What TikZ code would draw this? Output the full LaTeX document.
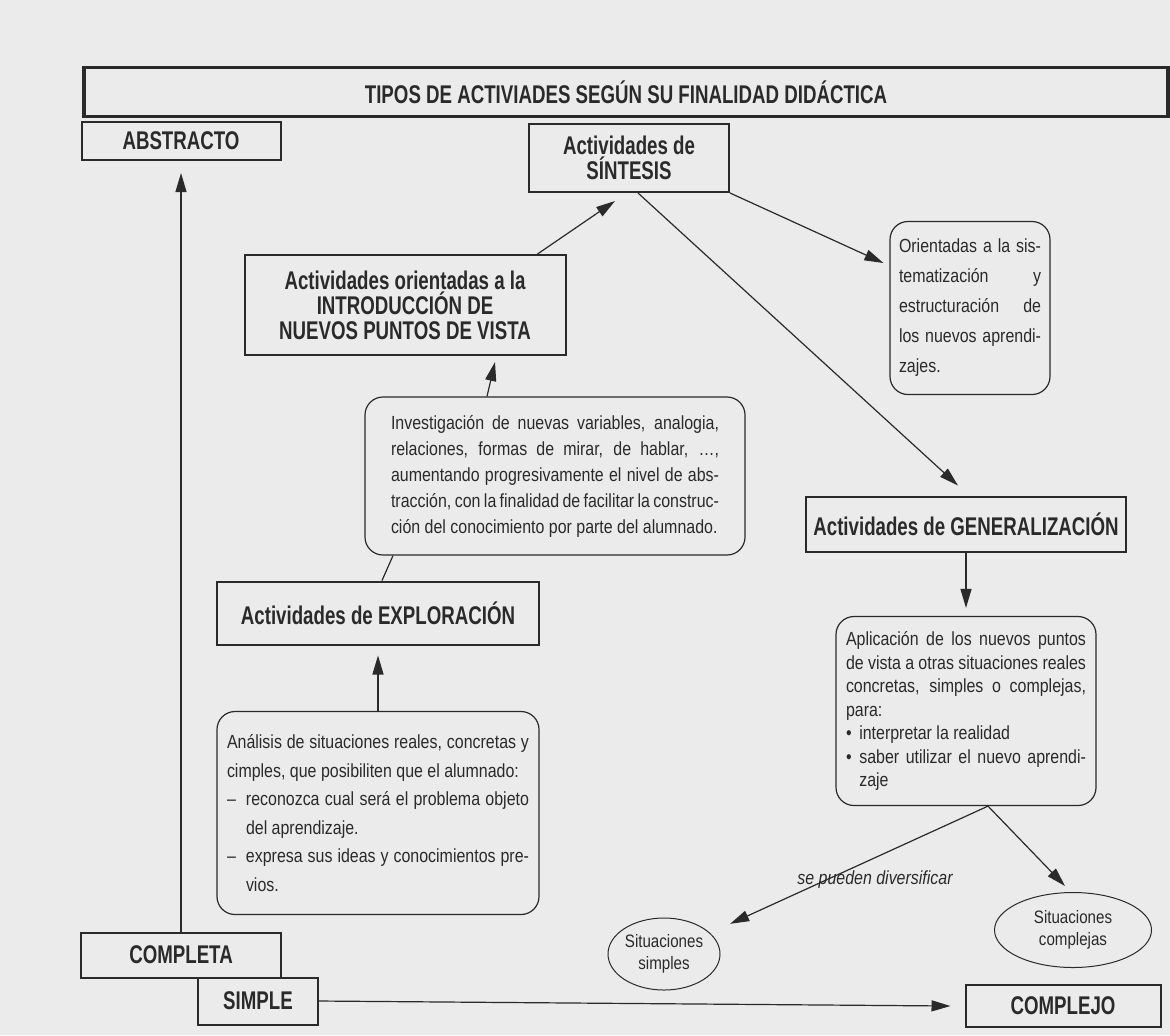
\documentclass[tikz,border=0pt]{standalone}
\usepackage{fontspec}
\setmainfont{Liberation Sans}[FakeStretch=0.84]
\newfontfamily\headfont{Liberation Sans}[FakeStretch=0.73]
\usetikzlibrary{arrows.meta,shapes.geometric,positioning}
\definecolor{paper}{HTML}{EBEBEB}
\definecolor{ink}{HTML}{2A2A2A}
\setlength{\parindent}{0pt}
\newcommand{\hangitem}[2][1em]{\par\hangindent=#1\hangafter=1\noindent\makebox[#1][l]{#2}}

\begin{document}
\begin{tikzpicture}[x = 0.5pt, y = -0.5pt, > = {Triangle[length = 9.5pt, width = 5.5pt]},
    box/.style = {draw = ink, line width = 1pt, text = ink, align = center, inner sep = 0pt,
                  font = \headfont\bfseries\fontsize{12.8}{12.5}\selectfont},
    note/.style = {draw = ink, line width = 0.6pt, rounded corners = 9pt, text = ink, align = justify,
                   inner ysep = 0pt},
    situ/.style = {draw = ink, ellipse, line width = 0.5pt, text = ink, align = center, inner sep = 0pt,
                   font = \fontsize{9}{11}\selectfont},
    link/.style = {->, draw = ink, line width = 0.6pt}]
    \fill[paper] (0,0) rectangle (1170,1035);
    \useasboundingbox (0,0) rectangle (1170,1035);

    % cajas
    \node at (626,92) [box, line width = 1.6pt, minimum width = 542pt, minimum height = 24.5pt] (title) {TIPOS DE ACTIVIADES SEGÚN SU FINALIDAD DIDÁCTICA};
    \node at (181,141) [box, minimum width = 99.5pt, minimum height = 19pt] (abs) {ABSTRACTO};
    \node at (629,158) [box, minimum width = 100pt, minimum height = 34pt] (sint) {Actividades de\\SÍNTESIS};
    \node at (405,305) [box, minimum width = 160.5pt, minimum height = 50pt] (intro) {Actividades orientadas a la\\INTRODUCCIÓN DE\\NUEVOS PUNTOS DE VISTA};
    \node at (970,308) [note, text width = 71pt, inner xsep = 4.5pt, minimum height = 86.5pt, font = \fontsize{9.5}{15}\selectfont] (orient) {Orientadas a la sis-\linebreak tematización y\linebreak estructuración de\linebreak los nuevos aprendi-\linebreak zajes.};
    \node at (555,476) [note, text width = 164pt, inner xsep = 13pt, minimum height = 79pt, font = \fontsize{9.5}{13}\selectfont] (invest) {Investigación de nuevas variables, analogia,\linebreak relaciones, formas de mirar, de hablar, …,\linebreak aumentando progresivamente el nivel de abs-\linebreak tracción, con la finalidad de facilitar la construc-\linebreak ción del conocimiento por parte del alumnado.};
    \node at (966,524) [box, minimum width = 160pt, minimum height = 27.5pt] (gen) {Actividades de GENERALIZACIÓN};
    \node at (378,613) [box, minimum width = 161pt, minimum height = 31.5pt] (explo) {Actividades de EXPLORACIÓN};
    \node at (966,711) [note, text width = 120pt, inner xsep = 5pt, minimum height = 94.5pt, font = \fontsize{9.5}{11.75}\selectfont] (aplic) {Aplicación de los nuevos puntos\linebreak de vista a otras situaciones reales\linebreak concretas, simples o complejas,\linebreak para:\hangitem[0.7em]{•}interpretar la realidad\hangitem[0.7em]{•}saber utilizar el nuevo aprendi-\linebreak zaje\par};
    \node at (378,813) [note, text width = 151pt, inner xsep = 5pt, minimum height = 101.5pt, font = \fontsize{9.5}{14.3}\selectfont] (analisis) {Análisis de situaciones reales, concretas y\linebreak cimples, que posibiliten que el alumnado:\hangitem{–}reconozca cual será el problema objeto\linebreak del aprendizaje.\hangitem{–}expresa sus ideas y conocimientos pre-\linebreak vios.\par};
    \node at (181,955) [box, minimum width = 100pt, minimum height = 22.5pt] (completa) {COMPLETA};
    \node at (258,1001) [box, minimum width = 60pt, minimum height = 23.5pt] (simple) {SIMPLE};
    \node at (1063,1006) [box, minimum width = 97.5pt, minimum height = 21pt] (complejo) {COMPLEJO};
    \node at (664,954) [situ, minimum width = 56pt, minimum height = 36pt] (simples) {Situaciones\\simples};
    \node at (1073,930) [situ, minimum width = 78.5pt, minimum height = 37.5pt] (complejas) {Situaciones\\complejas};
    \node at (875,880) [text = ink, font = \itshape\fontsize{9.5}{11}\selectfont] (lbl) {se pueden diversificar};

    % flechas
    \draw[link] (completa.north) -- ([yshift=-6pt]abs.south);
    \draw[link] ([xshift=-14.5pt]intro.north east) -- ([xshift=-7pt,yshift=-4pt]sint.south);
    \draw[link] (sint.south east) -- ([shift={(-3pt,22.5pt)}]orient.west);
    \draw[link] ([xshift=4.5pt]sint.south) -- ([shift={(-4pt,5pt)}]gen.north);
    \draw[link] ([xshift=-34pt]invest.north) -- ([shift={(45pt,-3pt)}]intro.south);
    \draw[ink, line width = 0.6pt] ([xshift=2pt]explo.north) -- ([xshift=-81pt]invest.south);
    \draw[link] (analisis.north) -- ([yshift=-5pt]explo.south);
    \draw[link] (gen.south) -- ([yshift=4pt]aplic.north);
    \coordinate (fork) at ([xshift=11pt]aplic.south);
    \draw[link, shorten >= 11pt] (fork) -- (simples);
    \draw[link] (fork) -- ([shift={(-4pt,3pt)}]complejas.north);
    \draw[link] (simple.east) -- ([xshift=-7pt]complejo.west);
\end{tikzpicture}
\end{document}
